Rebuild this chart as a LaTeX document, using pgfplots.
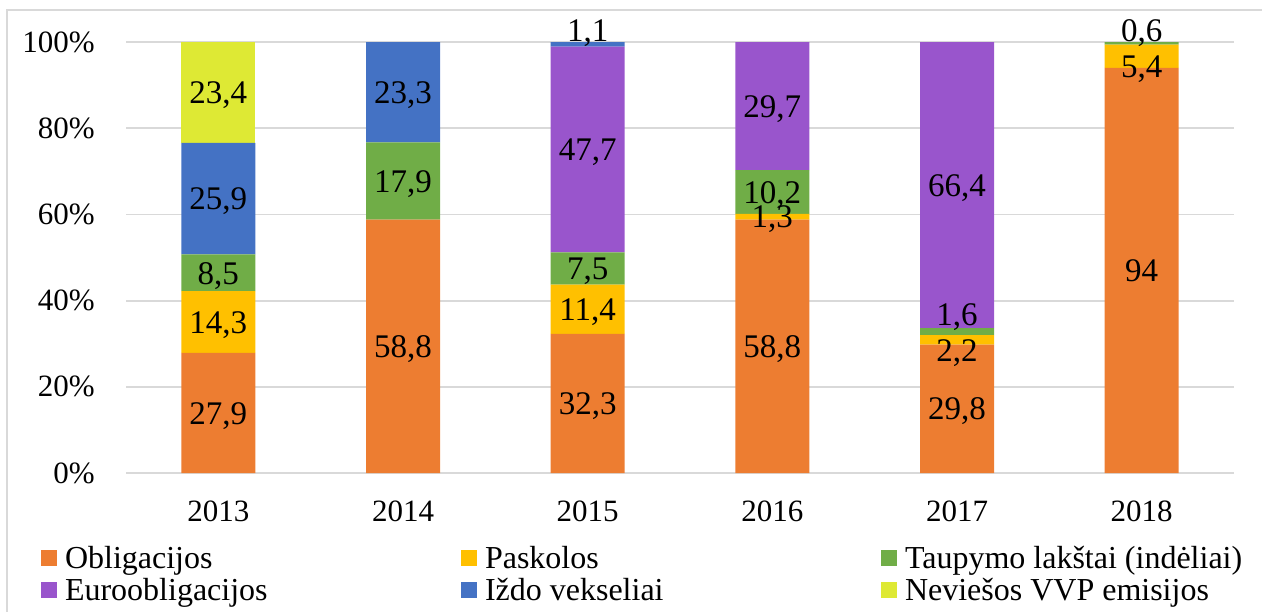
\documentclass[border=0pt]{standalone}
\usepackage{fontspec}
\setmainfont{Liberation Serif}
\usepackage{pgfplots}
\pgfplotsset{compat=1.18}
\definecolor{obl}{HTML}{ED7D31}
\definecolor{pask}{HTML}{FFC000}
\definecolor{taup}{HTML}{70AD47}
\definecolor{euro}{HTML}{9955CC}
\definecolor{izdo}{HTML}{4472C4}
\definecolor{nev}{HTML}{DEE934}
\definecolor{gridc}{HTML}{D9D9D9}
\begin{document}
\begin{tikzpicture}[x=1pt,y=1pt]
\useasboundingbox (0,0) rectangle (631,-305.5);
\draw[gridc, line width=0.9pt] (3.3,-5) rectangle (700,-400);
\begin{axis}[
  at={(63pt,-236.5pt)}, anchor=south west,
  scale only axis, width=554pt, height=215.5pt,
  ybar stacked, bar width=37pt,
  xmin=-0.5, xmax=5.5, ymin=0, ymax=100,
  enlargelimits=false,
  axis line style={draw=none},
  major tick length=0pt,
  /pgf/number format/assume math mode=true,
  ymajorgrids, grid style={gridc, line width=0.9pt},
  ytick={0,20,40,60,80,100},
  yticklabels={\textrm{0\%},\textrm{20\%},\textrm{40\%},\textrm{60\%},\textrm{80\%},\textrm{100\%}},
  xtick={0,1,2,3,4,5},
  xticklabels={\textrm{2013},\textrm{2014},\textrm{2015},\textrm{2016},\textrm{2017},\textrm{2018}},
  tick label style={font=\fontsize{15.5}{17}\selectfont, inner sep=0pt},
  yticklabel style={anchor=east, xshift=-15.5pt},
  xticklabel style={anchor=north, yshift=-13.85pt},
  legend columns=3,
  legend style={at={(-0.0767,-0.1647)}, anchor=north west, draw=none, fill=none,
    inner sep=0pt, outer sep=0pt, row sep=2.5pt, column sep=0pt,
    font=\fontsize{16}{18}\selectfont,
    nodes={inner sep=0pt, outer sep=0pt}, cells={anchor=west}},
  legend image code/.code={\fill[#1] (0pt,-4pt) rectangle (8pt,4pt);},
]
\addplot[fill=obl, draw=none] coordinates {(0,27.9) (1,58.8) (2,32.3) (3,58.8) (4,29.8) (5,94)};
\addlegendentry{\makebox[202pt][l]{\hspace*{4pt}Obligacijos\rule[-4pt]{0pt}{16pt}}}
\addplot[fill=pask, draw=none] coordinates {(0,14.3) (1,0) (2,11.4) (3,1.3) (4,2.2) (5,5.4)};
\addlegendentry{\makebox[202pt][l]{\hspace*{4pt}Paskolos\rule[-4pt]{0pt}{16pt}}}
\addplot[fill=taup, draw=none] coordinates {(0,8.5) (1,17.9) (2,7.5) (3,10.2) (4,1.6) (5,0.6)};
\addlegendentry{\makebox[202pt][l]{\hspace*{4pt}Taupymo lakštai (indėliai)\rule[-4pt]{0pt}{16pt}}}
\addplot[fill=euro, draw=none] coordinates {(0,0) (1,0) (2,47.7) (3,29.7) (4,66.4) (5,0)};
\addlegendentry{\makebox[202pt][l]{\hspace*{4pt}Euroobligacijos\rule[-4pt]{0pt}{16pt}}}
\addplot[fill=izdo, draw=none] coordinates {(0,25.9) (1,23.3) (2,1.1) (3,0) (4,0) (5,0)};
\addlegendentry{\makebox[202pt][l]{\hspace*{4pt}Iždo vekseliai\rule[-4pt]{0pt}{16pt}}}
\addplot[fill=nev, draw=none] coordinates {(0,23.4) (1,0) (2,0) (3,0) (4,0) (5,0)};
\addlegendentry{\makebox[202pt][l]{\hspace*{4pt}Neviešos VVP emisijos\rule[-4pt]{0pt}{16pt}}}
\end{axis}
\begin{axis}[
  at={(63pt,-236.5pt)}, anchor=south west,
  scale only axis, width=554pt, height=215.5pt,
  xmin=-0.5, xmax=5.5, ymin=0, ymax=100,
  enlargelimits=false, clip=false,
  hide axis,
]
\addplot[draw=none, mark=none, nodes near coords, point meta=explicit symbolic,
  every node near coord/.append style={anchor=base, yshift=-5.6pt, inner sep=0pt,
    font=\fontsize{16.5}{18}\selectfont, text=black}]
  table[meta=label] {
x y label
0 13.95 27,9
0 35.05 14,3
0 46.45 8,5
0 63.65 25,9
0 88.3 23,4
1 29.4 58,8
1 67.75 17,9
1 88.35 23,3
2 16.15 32,3
2 38.0 11,4
2 47.45 7,5
2 75.05 47,7
2 102.6 1,1
3 29.4 58,8
3 59.45 1,3
3 65.2 10,2
3 85.15 29,7
4 14.9 29,8
4 28.5 2,2
4 36.9 1,6
4 66.8 66,4
5 47.0 94
5 94.4 5,4
5 102.6 0,6
};
\end{axis}
\end{tikzpicture}
\end{document}
